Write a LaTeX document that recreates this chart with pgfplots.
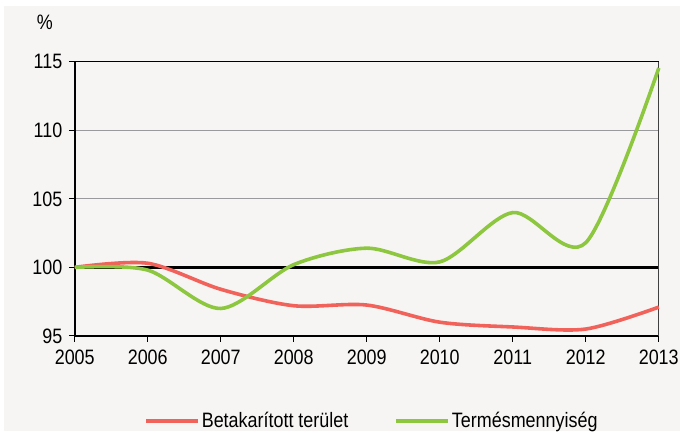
\documentclass[border=0pt]{standalone}
\usepackage{fontspec}
\setmainfont{Liberation Sans}[FakeStretch=0.86]
\usepackage{pgfplots}
\pgfplotsset{compat=1.18}
\definecolor{bg}{HTML}{F6F5F3}
\definecolor{redl}{HTML}{F0625A}
\definecolor{greenl}{HTML}{8DC63F}
\definecolor{gridc}{HTML}{9A9A9E}
\begin{document}
\begin{tikzpicture}
\fill[white] (0,0) rectangle (682bp,432bp);
\fill[bg] (4bp,0) rectangle (682bp,426bp);
\begin{axis}[
  at={(75bp,95bp)}, anchor=south west,
  scale only axis, width=586bp, height=275bp,
  xmin=2005, xmax=2013, ymin=95, ymax=115,
  xtick={2005,...,2013}, ytick={95,100,...,115},
  /pgf/number format/assume math mode=true,
  /pgf/number format/1000 sep={},
  axis lines=left,
  axis line style={-, black, line width=1.6bp},
  tick align=outside,
  major tick length=6bp,
  tick style={black, line width=1.2bp},
  ymajorgrids, grid style={gridc, line width=1.2bp},
  ticklabel style={font=\fontsize{21}{22}\selectfont},
  xticklabel style={yshift=-5bp},
  yticklabel style={xshift=-3bp},
  legend style={draw=none, fill=none, at={(0.5085,-0.309)}, anchor=center,
    font=\fontsize{21}{22}\selectfont,
    /tikz/every even column/.append style={column sep=44bp}},
  legend columns=2,
  legend image code/.code={\draw[#1,line width=4bp] (0bp,0bp) -- (52bp,0bp);},
  clip=false,
]
\draw[line width=2.6bp, black] (axis cs:2005,100) -- (axis cs:2013,100);
\draw[line width=1.4bp, black] (rel axis cs:0,1) -- (rel axis cs:1,1);
\draw[line width=0.8bp, black!75] (rel axis cs:1,0) -- (rel axis cs:1,1);
\addplot[redl, line width=3.6bp, smooth, tension=0.5] coordinates {
(2005,100.0) (2006,100.3) (2007,98.4) (2008,97.2) (2009,97.25)
(2010,96.0) (2011,95.65) (2012,95.5) (2013,97.1)};
\addlegendentry{Betakarított terület}
\addplot[greenl, line width=3.6bp, smooth, tension=0.5] coordinates {
(2005,100.0) (2006,99.8) (2007,97.0) (2008,100.2) (2009,101.4)
(2010,100.4) (2011,104.0) (2012,101.8) (2013,114.55)};
\addlegendentry{Termésmennyiség}
\end{axis}
\node at (45bp,410bp) {\fontsize{21}{22}\selectfont\%};
\end{tikzpicture}
\end{document}
